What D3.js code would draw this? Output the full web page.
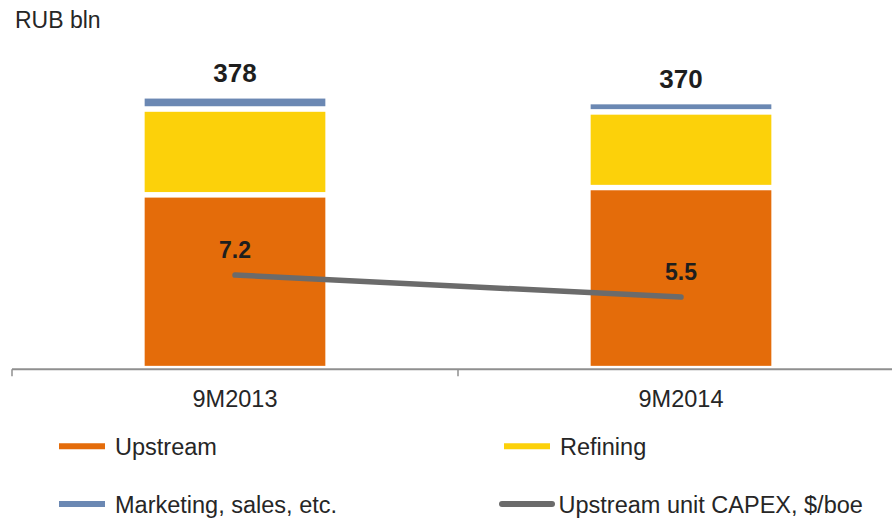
<!DOCTYPE html>
<html>
<head>
<meta charset="utf-8">
<script src="https://cdn.jsdelivr.net/npm/d3@7"></script>
<style>
  body { margin: 0; background: #fff; }
  text { font-family: "Liberation Sans", Arial, sans-serif; }
</style>
</head>
<body>
<div id="chart"></div>
<script>
// Data
const periods = ["9M2013", "9M2014"];
const upstream = [241, 251];
const refining = [119, 105];
const marketing = [18, 14];
const totals = [378, 370];
const unitCapex = [7.2, 5.5];

const seriesNames = ["Upstream", "Refining", "Marketing, sales, etc."];
const capexName = "Upstream unit CAPEX, $/boe";

const width = 892;
const height = 518;
const plot = { left: 12, right: 904, top: 44, bottom: 368.5 };

const colors = {
  "Upstream": "#e46c0a",
  "Refining": "#fcd10a",
  "Marketing, sales, etc.": "#6b88b3"
};
const lineColor = "#6b6b6b";

const svg = d3.select("#chart")
  .append("svg")
  .attr("width", width)
  .attr("height", height);

// X scale — one band per period
const x = d3.scaleBand()
  .domain(periods)
  .range([plot.left, plot.right])
  .paddingInner(0.583)
  .paddingOuter(0.2915);

// Y scales — RUB bln on the left, $/boe on a hidden secondary axis
const y = d3.scaleLinear()
  .domain([0, 450])
  .range([plot.bottom, plot.top]);

const y2 = d3.scaleLinear()
  .domain([0, 25])
  .range([plot.bottom, plot.top]);

// Stack the bar segments
const rows = periods.map((p, i) => ({
  period: p,
  "Upstream": upstream[i],
  "Refining": refining[i],
  "Marketing, sales, etc.": marketing[i]
}));
const stacked = d3.stack().keys(seriesNames)(rows);

svg.append("g")
  .selectAll("g")
  .data(stacked)
  .join("g")
  .attr("fill", d => colors[d.key])
  .selectAll("rect")
  .data(d => d)
  .join("rect")
  .attr("x", d => x(d.data.period))
  .attr("width", x.bandwidth())
  .attr("y", d => y(d[1]))
  .attr("height", d => y(d[0]) - y(d[1]))
  .attr("stroke", "#fff")
  .attr("stroke-width", 5.3);

// Totals above bars
svg.append("g")
  .selectAll("text")
  .data(periods)
  .join("text")
  .attr("x", d => x(d) + x.bandwidth() / 2)
  .attr("y", (d, i) => y(totals[i]) - 14)
  .attr("text-anchor", "middle")
  .attr("font-size", 26)
  .attr("font-weight", "bold")
  .attr("fill", "#1e1e1e")
  .text((d, i) => totals[i]);

// X axis — line with ticks at band edges
const axisG = svg.append("g").attr("transform", `translate(0,${plot.bottom + 0.8})`);
axisG.append("line")
  .attr("x1", plot.left)
  .attr("x2", plot.right)
  .attr("stroke", "#8f8f8f")
  .attr("stroke-width", 2);

const edges = [x(periods[0]) + x.bandwidth() / 2 - x.step() / 2]
  .concat(periods.map(p => x(p) + x.bandwidth() / 2 + x.step() / 2));
axisG.selectAll(".edge")
  .data(edges)
  .join("line")
  .attr("class", "edge")
  .attr("x1", d => d)
  .attr("x2", d => d)
  .attr("y1", 0)
  .attr("y2", 7)
  .attr("stroke", "#8f8f8f")
  .attr("stroke-width", 1.5);

axisG.selectAll(".cat")
  .data(periods)
  .join("text")
  .attr("class", "cat")
  .attr("x", d => x(d) + x.bandwidth() / 2)
  .attr("y", 37.5)
  .attr("text-anchor", "middle")
  .attr("font-size", 23.5)
  .attr("fill", "#262626")
  .text(d => d);

// Unit CAPEX line
const line = d3.line()
  .x((d, i) => x(periods[i]) + x.bandwidth() / 2)
  .y(d => y2(d));

svg.append("path")
  .datum(unitCapex)
  .attr("fill", "none")
  .attr("stroke", lineColor)
  .attr("stroke-width", 5.5)
  .attr("stroke-linecap", "round")
  .attr("d", line);

svg.append("g")
  .selectAll("text")
  .data(unitCapex)
  .join("text")
  .attr("x", (d, i) => x(periods[i]) + x.bandwidth() / 2)
  .attr("y", d => y2(d) - 17)
  .attr("text-anchor", "middle")
  .attr("font-size", 23)
  .attr("font-weight", "bold")
  .attr("fill", "#1e1e1e")
  .text(d => d.toFixed(1));

// Axis title
svg.append("text")
  .attr("x", 15)
  .attr("y", 27.5)
  .attr("font-size", 23)
  .attr("fill", "#262626")
  .text("RUB bln");

// Legend
const legendItems = [
  { name: seriesNames[0], color: colors[seriesNames[0]], col: 0, row: 0, line: false },
  { name: seriesNames[1], color: colors[seriesNames[1]], col: 1, row: 0, line: false },
  { name: seriesNames[2], color: colors[seriesNames[2]], col: 0, row: 1, line: false },
  { name: capexName, color: lineColor, col: 1, row: 1, line: true }
];
const colX = [59, 504];
const rowY = [446.3, 504];

const legend = svg.append("g")
  .selectAll("g")
  .data(legendItems)
  .join("g")
  .attr("transform", d => `translate(${colX[d.col]},${rowY[d.row]})`);

legend.append("line")
  .attr("x1", d => d.line ? -2 : 0)
  .attr("x2", d => d.line ? 48 : 46)
  .attr("stroke", d => d.color)
  .attr("stroke-width", 6)
  .attr("stroke-linecap", d => d.line ? "round" : "butt");

legend.append("text")
  .attr("x", d => d.line ? 54.5 : 56)
  .attr("y", 8.8)
  .attr("font-size", 23.5)
  .attr("fill", "#262626")
  .text(d => d.name);
</script>
</body>
</html>
